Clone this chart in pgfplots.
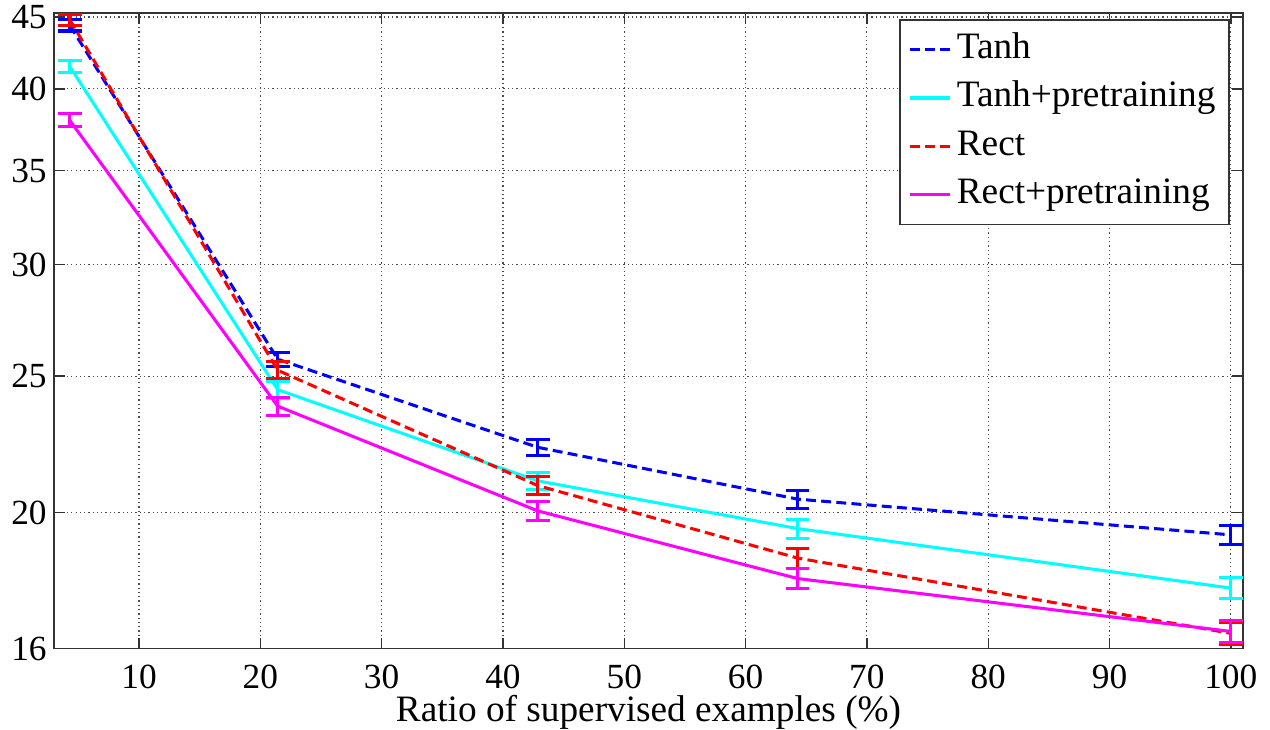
\documentclass[border=0pt]{standalone}
\usepackage{fontspec}
\setmainfont{Liberation Serif}
\usepackage{pgfplots}
\pgfplotsset{compat=1.18}
\definecolor{mblue}{rgb}{0,0,1}
\definecolor{mcyan}{rgb}{0,1,1}
\definecolor{mred}{rgb}{1,0,0}
\definecolor{mmagenta}{rgb}{1,0,1}
\begin{document}
\fontsize{13.5}{16}\selectfont
\begin{tikzpicture}
\begin{axis}[
  scale only axis,
  width=430.6pt, height=230.3pt,
  xmin=3, xmax=101, ymin=16, ymax=45.3,
  ymode=log,
  xtick={10,20,...,100},
  ytick={16,20,25,30,35,40,45},
  yticklabels={16,20,25,30,35,40,45},
  /pgf/number format/assume math mode=true,
  tick label style={font=\fontsize{12.8}{15}\selectfont},
  label style={font=\fontsize{13.5}{16}\selectfont},
  xticklabel style={yshift=-1pt},
  yticklabel style={xshift=2pt},
  tick align=inside, tick pos=both,
  major tick length=4pt,
  minor tick num=0,
  grid=major,
  major grid style={black!70, line width=0.4pt, dash pattern=on 0.45pt off 1.1pt},
  axis line style={black!80, line width=0.5pt},
  every tick/.style={black!80, line width=0.5pt},
  xlabel={Ratio of supervised examples (\%)},
  xlabel style={at={(rel axis cs:0.5,0)}, anchor=base, yshift=-26.5pt},
  legend style={at={(0.989,0.99)}, anchor=north east, draw=black!80, line width=0.5pt,
    font=\fontsize{13.5}{16}\selectfont,
    nodes={inner sep=2pt, text height=10pt, text depth=3.5pt}},
  legend cell align=left,
  legend image code/.code={\draw[#1] (0pt,0pt) -- (14.5pt,0pt);},
  every axis plot/.append style={line width=1.1pt, no marks},
  error bars/y dir=both, error bars/y explicit,
  error bars/error mark=-,
  error bars/error bar style={solid, line width=1.1pt},
  error bars/error mark options={rotate=90, solid, line width=1.1pt, mark size=4.3pt},
]
\addplot[mblue, dash pattern=on 3.6pt off 1.9pt] coordinates {
  (4.29,44.4) +- (0,0.42)
  (21.43,25.7) +- (0,0.3)
  (42.86,22.25) +- (0,0.3)
  (64.29,20.44) +- (0,0.3)
  (100,19.28) +- (0,0.3)
};
\addlegendentry{Tanh}
\addplot[mcyan] coordinates {
  (4.29,41.5) +- (0,0.4)
  (21.43,24.45) +- (0,0.35)
  (42.86,21.06) +- (0,0.3)
  (64.29,19.48) +- (0,0.3)
  (100,17.67) +- (0,0.3)
};
\addlegendentry{Tanh+pretraining}
\addplot[mred, dash pattern=on 3.6pt off 1.9pt] coordinates {
  (4.29,44.8) +- (0,0.4)
  (21.43,25.24) +- (0,0.35)
  (42.86,20.9) +- (0,0.3)
  (64.29,18.56) +- (0,0.3)
  (100,16.41) +- (0,0.3)
};
\addlegendentry{Rect}
\addplot[mmagenta] coordinates {
  (4.29,38.0) +- (0,0.4)
  (21.43,23.8) +- (0,0.35)
  (42.86,20.05) +- (0,0.3)
  (64.29,17.95) +- (0,0.3)
  (100,16.46) +- (0,0.3)
};
\addlegendentry{Rect+pretraining}
\end{axis}
\pgfresetboundingbox
\path ([shift={(-19.6pt,-29.3pt)}]current axis.south west) rectangle ([shift={(9.8pt,4.7pt)}]current axis.north east);
\end{tikzpicture}
\end{document}
